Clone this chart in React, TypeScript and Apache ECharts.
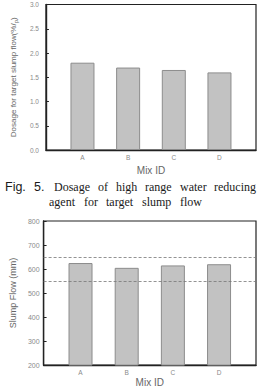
import React, { useEffect, useRef } from "react";
import * as echarts from "echarts";

const categories = ["A", "B", "C", "D"];
const dosageValues = [1.8, 1.7, 1.65, 1.6];
const slumpValues = [625, 605, 615, 620];
const slumpLimits = [550, 650];

const captionLine1 = [
  { t: "Fig.", x: 5, sans: true },
  { t: "5.", x: 34, sans: true },
  { t: "Dosage", x: 54 },
  { t: "of", x: 98 },
  { t: "high", x: 116 },
  { t: "range", x: 145 },
  { t: "water", x: 180 },
  { t: "reducing", x: 214 },
];
const captionLine2 = [
  { t: "agent", x: 49 },
  { t: "for", x: 84 },
  { t: "target", x: 106 },
  { t: "slump", x: 142 },
  { t: "flow", x: 180 },
];

export default function App() {
  const ref = useRef<HTMLDivElement>(null);
  useEffect(() => {
    if (!ref.current) return;
    const chart = echarts.init(ref.current, null, { renderer: "svg" });
    const labelColor = "#8a8a8a";
    const nameColor = "#666";
    const axisLineStyle = { color: "#222", width: 1.4 };
    const xAxisBase = (gridIndex: number, nameGap: number) => ({
      type: "value" as const,
      gridIndex,
      min: 0.2,
      max: 4.8,
      name: "Mix ID",
      nameLocation: "middle" as const,
      nameGap,
      nameTextStyle: { color: nameColor, fontSize: 10, fontFamily: "Liberation Sans" },
      axisLine: { show: true, lineStyle: axisLineStyle },
      axisTick: { show: false },
      splitLine: { show: false },
      axisLabel: {
        customValues: [1, 2, 3, 4],
        formatter: (v: number) => categories[Math.round(v) - 1] ?? "",
        color: labelColor,
        fontSize: 6.5,
        margin: 4,
        fontFamily: "Liberation Sans",
      },
    });

    const captionTexts: any[] = [];
    const addLine = (words: any[], y: number) => {
      words.forEach((w) => {
        captionTexts.push({
          type: "text",
          x: w.x,
          y,
          style: {
            text: w.t,
            fill: "#1a1a1a",
            font: w.sans
              ? "12.5px 'Liberation Sans', Arial, sans-serif"
              : "12px 'Liberation Serif', 'Times New Roman', serif",
            textAlign: "left",
            textVerticalAlign: "middle",
            verticalAlign: "middle",
          },
        });
      });
    };
    addLine(captionLine1, 187);
    addLine(captionLine2, 202);

    chart.setOption({
      animation: false,
      backgroundColor: "#fff",
      grid: [
        {
          left: 34,
          width: 222,
          top: 4.5,
          height: 145.5,
          show: true,
          borderColor: "#222",
          borderWidth: 1.2,
        },
        {
          left: 34,
          width: 222,
          top: 221,
          height: 145.7,
          show: true,
          borderColor: "#222",
          borderWidth: 1.2,
        },
      ],
      xAxis: [xAxisBase(0, 15), xAxisBase(1, 11)],
      yAxis: [
        {
          type: "value",
          gridIndex: 0,
          min: 0,
          max: 3,
          interval: 0.5,
          name: "Dosage for target slump flow(%/{s|p})",
          nameLocation: "middle",
          nameGap: 20,
          nameTextStyle: {
            color: nameColor,
            fontSize: 8,
            fontFamily: "Liberation Sans",
            lineHeight: 11,
            rich: {
              s: { fontSize: 6, color: nameColor, verticalAlign: "bottom", lineHeight: 11 },
            },
          },
          axisLine: { show: true, lineStyle: axisLineStyle },
          axisTick: { show: true, inside: true, length: 3, lineStyle: { color: "#222" } },
          splitLine: { show: false },
          axisLabel: {
            formatter: (v: number) => v.toFixed(1),
            color: labelColor,
            fontSize: 6.5,
            margin: 7,
            fontFamily: "Liberation Sans",
          },
        },
        {
          type: "value",
          gridIndex: 1,
          min: 200,
          max: 800,
          interval: 100,
          name: "Slump Flow (mm)",
          nameLocation: "middle",
          nameGap: 20,
          nameTextStyle: { color: nameColor, fontSize: 9, fontFamily: "Liberation Sans" },
          axisLine: { show: true, lineStyle: axisLineStyle },
          axisTick: { show: true, inside: true, length: 3, lineStyle: { color: "#222" } },
          splitLine: { show: false },
          axisLabel: {
            color: labelColor,
            fontSize: 7,
            margin: 4,
            fontFamily: "Liberation Sans",
          },
        },
      ],
      series: [
        {
          type: "bar",
          xAxisIndex: 0,
          yAxisIndex: 0,
          barWidth: 24,
          data: dosageValues.map((v, i) => [i + 1, v]),
          itemStyle: { color: "#c2c2c2", borderColor: "#8c8c8c", borderWidth: 1 },
        },
        {
          type: "bar",
          xAxisIndex: 1,
          yAxisIndex: 1,
          barWidth: 24,
          data: slumpValues.map((v, i) => [i + 1, v]),
          itemStyle: { color: "#c2c2c2", borderColor: "#8c8c8c", borderWidth: 1 },
          markLine: {
            silent: true,
            symbol: "none",
            label: { show: false },
            lineStyle: { type: [3, 2], color: "#777", width: 0.8 },
            data: slumpLimits.map((v) => ({ yAxis: v })),
          },
        },
      ],
      graphic: captionTexts,
    });
    return () => chart.dispose();
  }, []);
  return (
    <div
      ref={ref}
      style={{ position: "absolute", left: 0, top: 0, width: 260, height: 388 }}
    />
  );
}
